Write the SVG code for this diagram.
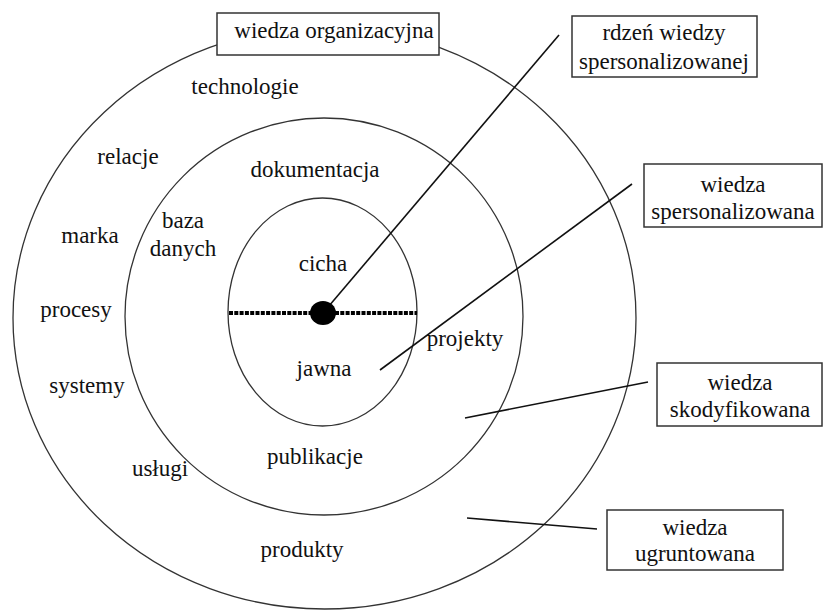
<svg xmlns="http://www.w3.org/2000/svg" width="823" height="610" viewBox="0 0 823 610">
<style>
.ring{fill:none;stroke:#333;stroke-width:1.3}
.ln{stroke:#111;stroke-width:1.6;fill:none}
.box{fill:#fff;stroke:#333;stroke-width:1.5}
.t{font-family:'Liberation Serif',serif;font-size:23px;fill:#111;text-anchor:middle}
</style>
<rect width="823" height="610" fill="#fff"/>
<g id="rings">
<ellipse class="ring" cx="324.5" cy="318" rx="311.5" ry="291"/>
<ellipse class="ring" cx="324" cy="316.5" rx="199" ry="198.5"/>
<ellipse class="ring" cx="322.5" cy="312" rx="94.5" ry="114"/>
</g>
<g id="connectors">
<line class="ln" x1="323" y1="313" x2="559" y2="35"/>
<line class="ln" x1="380" y1="370" x2="632" y2="184"/>
<line class="ln" x1="465" y1="418" x2="648" y2="382"/>
<line class="ln" x1="467" y1="518" x2="597" y2="529"/>
</g>
<g id="axis">
<line x1="229" y1="313" x2="417" y2="313" stroke="#000" stroke-width="4" stroke-dasharray="4 1.3"/>
<ellipse cx="323" cy="313" rx="13" ry="12" fill="#000"/>
</g>
<g id="wiedza-organizacyjna" font-family="Liberation Serif, serif">
<rect class="box" x="217" y="13" width="222" height="42"/>
<text class="t" x="334" y="38">wiedza organizacyjna</text>
</g>
<g id="rdzen" font-family="Liberation Serif, serif">
<rect class="box" x="572" y="16" width="185" height="61"/>
<text class="t" x="664" y="40">rdzeń wiedzy</text>
<text class="t" x="664" y="69">spersonalizowanej</text>
</g>
<g id="spersonalizowana" font-family="Liberation Serif, serif">
<rect class="box" x="644" y="164" width="178" height="63"/>
<text class="t" x="733" y="192">wiedza</text>
<text class="t" x="733" y="219">spersonalizowana</text>
</g>
<g id="skodyfikowana" font-family="Liberation Serif, serif">
<rect class="box" x="657" y="363" width="165" height="63"/>
<text class="t" x="740" y="390">wiedza</text>
<text class="t" x="740" y="417">skodyfikowana</text>
</g>
<g id="ugruntowana" font-family="Liberation Serif, serif">
<rect class="box" x="607" y="510" width="176" height="60"/>
<text class="t" x="695" y="535">wiedza</text>
<text class="t" x="695" y="561">ugruntowana</text>
</g>
<g id="labels" font-family="Liberation Serif, serif">
<text class="t" x="245" y="94">technologie</text>
<text class="t" x="128" y="164">relacje</text>
<text class="t" x="90" y="243">marka</text>
<text class="t" x="76" y="317">procesy</text>
<text class="t" x="87" y="393">systemy</text>
<text class="t" x="160" y="476">usługi</text>
<text class="t" x="302" y="557">produkty</text>
<text class="t" x="315" y="177">dokumentacja</text>
<text class="t" x="183" y="228">baza</text>
<text class="t" x="183" y="256">danych</text>
<text class="t" x="323" y="271">cicha</text>
<text class="t" x="324" y="376">jawna</text>
<text class="t" x="465" y="346">projekty</text>
<text class="t" x="315" y="464">publikacje</text>
</g>
</svg>
